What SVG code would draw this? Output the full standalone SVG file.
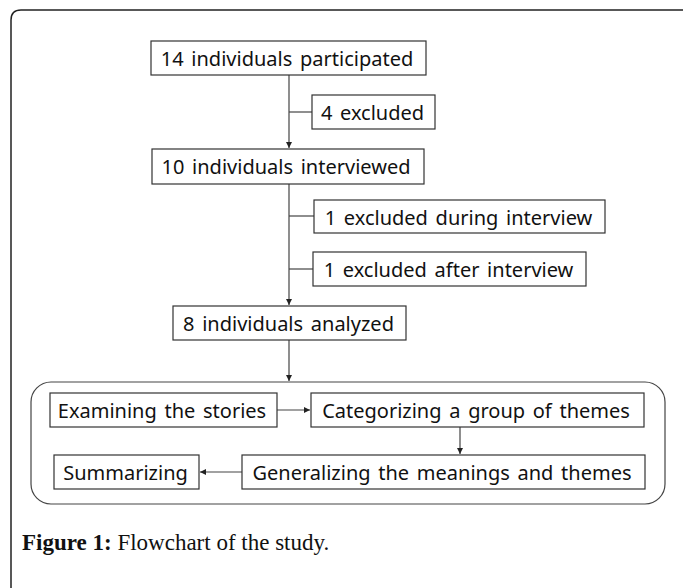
<svg xmlns="http://www.w3.org/2000/svg" width="683" height="588" viewBox="0 0 683 588">
<defs>
<marker id="arr" markerUnits="userSpaceOnUse" markerWidth="7" markerHeight="7" refX="6" refY="3" orient="auto">
<path d="M0,0 L6,3 L0,6 z" fill="#222"/>
</marker>
<style>
.box{fill:#fff;stroke:#333;stroke-width:1.2}
.t{font-family:"Noto Sans","DejaVu Sans",sans-serif;font-size:20px;fill:#111;text-anchor:middle;word-spacing:2.5px}
.c{fill:none;stroke:#444;stroke-width:1.2}
.cap{font-family:"Liberation Serif","Times New Roman",serif;font-size:23px;fill:#111}
</style>
</defs>
<rect width="683" height="588" fill="#fff"/>
<path d="M11,600 V20 Q11,10 21,10 H690" fill="none" stroke="#222" stroke-width="1.5"/>
<g id="connectors">
<path class="c" d="M289,75 V148" marker-end="url(#arr)"/>
<path class="c" d="M289,112 H312"/>
<path class="c" d="M289,184 V305" marker-end="url(#arr)"/>
<path class="c" d="M289,216 H314"/>
<path class="c" d="M289,269 H313"/>
<path class="c" d="M289,340 V381" marker-end="url(#arr)"/>
<path class="c" d="M277,410 H310" marker-end="url(#arr)"/>
<path class="c" d="M460,427 V454" marker-end="url(#arr)"/>
<path class="c" d="M242,472 H200" marker-end="url(#arr)"/>
</g>
<g id="n1"><rect class="box" x="151" y="41" width="275" height="34"/><text class="t" x="287" y="66">14 individuals participated</text></g>
<g id="n2"><rect class="box" x="312" y="95" width="123" height="34"/><text class="t" x="372.5" y="120">4 excluded</text></g>
<g id="n3"><rect class="box" x="152" y="149" width="272" height="35"/><text class="t" x="286" y="174">10 individuals interviewed</text></g>
<g id="n4"><rect class="box" x="314" y="200" width="291" height="33"/><text class="t" x="458.5" y="225">1 excluded during interview</text></g>
<g id="n5"><rect class="box" x="313" y="252" width="273" height="34"/><text class="t" x="448.5" y="277">1 excluded after interview</text></g>
<g id="n6"><rect class="box" x="173" y="306" width="233" height="34"/><text class="t" x="288.5" y="331">8 individuals analyzed</text></g>
<g id="container"><rect x="31" y="382" width="634" height="122" rx="20" fill="none" stroke="#444" stroke-width="1.2"/></g>
<g id="n7"><rect class="box" x="50" y="393" width="227" height="34"/><text class="t" x="162" y="418">Examining the stories</text></g>
<g id="n8"><rect class="box" x="311" y="393" width="333" height="34"/><text class="t" x="476" y="418">Categorizing a group of themes</text></g>
<g id="n9"><rect class="box" x="54" y="455" width="145" height="34"/><text class="t" x="125.5" y="480">Summarizing</text></g>
<g id="n10"><rect class="box" x="242" y="455" width="403" height="34"/><text class="t" x="442" y="480">Generalizing the meanings and themes</text></g>
<text class="cap" x="22" y="550"><tspan font-weight="bold">Figure 1:</tspan> Flowchart of the study.</text>
</svg>
